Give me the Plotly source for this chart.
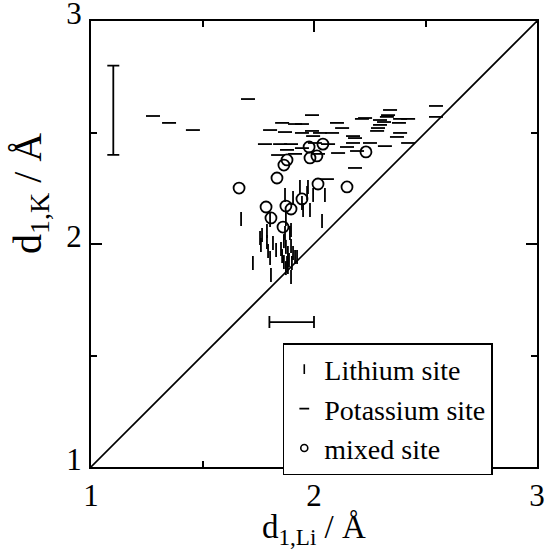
import plotly.graph_objects as go

# ---- data ----
li_x = [1.870, 1.906, 1.937, 1.973, 1.969, 1.996, 2.049, 1.951, 1.982, 1.673,
        1.874, 2.036, 1.803, 1.767, 1.758, 1.789, 1.870, 1.892, 1.897, 1.789,
        1.816, 1.762, 1.852, 1.865, 1.874, 1.883, 1.897, 1.794, 1.830, 1.803,
        1.857, 1.906, 1.915, 1.726, 1.865, 1.879, 1.888, 1.901, 1.874, 1.807,
        1.897, 1.946, 1.924, 1.883]
li_y = [2.220, 2.206, 2.256, 2.256, 2.229, 2.220, 2.220, 2.152, 2.152, 2.112,
        2.112, 2.103, 2.108, 2.040, 2.027, 2.058, 2.049, 2.049, 2.063, 2.009,
        2.004, 1.996, 1.978, 2.013, 1.987, 1.960, 1.991, 1.969, 1.973, 1.937,
        1.946, 1.960, 1.942, 1.915, 1.919, 1.915, 1.928, 1.915, 1.892, 1.861,
        1.852, 2.184, 1.942, 1.897]

k_x = [1.278, 1.350, 1.457, 1.704, 1.991, 2.547, 2.547, 2.341, 2.332, 2.296,
       2.386, 2.422, 2.296, 2.287, 2.283, 2.381, 2.386, 2.372, 2.215, 2.103,
       2.126, 2.081, 1.991, 2.027, 1.946, 1.946, 1.996, 1.857, 1.915, 1.803,
       1.870, 1.780, 1.848, 1.897, 1.946, 2.004, 2.063, 2.148, 1.879, 1.839,
       1.915, 2.018, 2.108, 2.175, 2.184, 2.175, 2.251, 2.318, 2.422, 2.193,
       2.184, 2.058, 2.229, 2.327, 2.314]
k_y = [2.574, 2.543, 2.511, 2.650, 2.578, 2.619, 2.570, 2.601, 2.578, 2.556,
       2.561, 2.561, 2.534, 2.520, 2.507, 2.543, 2.498, 2.480, 2.561, 2.543,
       2.520, 2.498, 2.507, 2.498, 2.538, 2.498, 2.484, 2.543, 2.538, 2.511,
       2.502, 2.448, 2.448, 2.448, 2.430, 2.453, 2.448, 2.435, 2.422, 2.399,
       2.404, 2.404, 2.408, 2.484, 2.475, 2.453, 2.453, 2.439, 2.453, 2.417,
       2.341, 2.291, 2.565, 2.570, 2.547]

mix_x = [1.664, 1.834, 1.879, 1.865, 1.978, 2.040, 1.982, 2.013, 2.018, 2.148,
         2.233, 1.785, 1.874, 1.897, 1.946, 1.807, 1.861]
mix_y = [2.251, 2.296, 2.377, 2.354, 2.435, 2.448, 2.386, 2.395, 2.269, 2.256,
         2.413, 2.166, 2.170, 2.157, 2.202, 2.117, 2.076]

# error-bar indicators
errv_x, errv_y, errv_e = [1.1], [2.6], [0.2]
errh_x, errh_y, errh_e = [1.9], [1.65], [0.1]

diag = [1, 3]
tick_vals = [1, 2, 3]
tick_text = ["1", "2", "3"]
minor_vals = [1.5, 2.5]

series_names = ["Lithium site", "Potassium site", "mixed site"]

FONT = "Liberation Serif"

fig = go.Figure()

fig.add_trace(go.Scatter(x=diag, y=diag, mode="lines",
                         line=dict(color="black", width=1.6),
                         showlegend=False, hoverinfo="skip"))

fig.add_trace(go.Scatter(x=li_x, y=li_y, mode="markers", name=series_names[0],
                         showlegend=False,
                         marker=dict(symbol="line-ns", size=10, color="black",
                                     line=dict(color="black", width=1.8))))
fig.add_trace(go.Scatter(x=k_x, y=k_y, mode="markers", name=series_names[1],
                         showlegend=False,
                         marker=dict(symbol="line-ew", size=10, color="black",
                                     line=dict(color="black", width=1.8))))
fig.add_trace(go.Scatter(x=mix_x, y=mix_y, mode="markers", name=series_names[2],
                         showlegend=False,
                         marker=dict(symbol="circle-open", size=11, color="black",
                                     line=dict(color="black", width=1.8))))

# legend-only entries with the small symbols seen in the reference legend
legend_symbols = [("line-ns", 7), ("line-ew", 7), ("circle-open", 7)]
for nm, (sym, sz) in zip(series_names, legend_symbols):
    fig.add_trace(go.Scatter(x=[None], y=[None], mode="markers", name=nm,
                             marker=dict(symbol=sym, size=sz, color="black",
                                         line=dict(color="black", width=1.6))))

fig.add_trace(go.Scatter(x=errv_x, y=errv_y, mode="markers",
                         marker=dict(size=0.1, color="rgba(0,0,0,0)"),
                         error_y=dict(type="data", array=errv_e, color="black",
                                      thickness=1.8, width=6),
                         showlegend=False, hoverinfo="skip"))
fig.add_trace(go.Scatter(x=errh_x, y=errh_y, mode="markers",
                         marker=dict(size=0.1, color="rgba(0,0,0,0)"),
                         error_x=dict(type="data", array=errh_e, color="black",
                                      thickness=1.8, width=6),
                         showlegend=False, hoverinfo="skip"))

axis_common = dict(
    range=[1, 3], tickmode="array", tickvals=tick_vals, ticktext=tick_text,
    showgrid=False, zeroline=False, showline=True, linecolor="black",
    linewidth=2, mirror="ticks", ticks="inside", ticklen=11, tickwidth=2,
    tickcolor="black", tickfont=dict(family=FONT, size=31, color="black"),
    automargin=False, ticklabeloverflow="allow",
    minor=dict(tickmode="array", tickvals=minor_vals, ticks="inside",
               ticklen=6, tickwidth=2, tickcolor="black", showgrid=False),
)

fig.update_xaxes(**axis_common, ticklabelstandoff=0)
fig.update_yaxes(**axis_common, ticklabelstandoff=1, ticklabelshift=-8)

fig.update_layout(
    width=550, height=550,
    margin=dict(l=91, r=13, t=21, b=83, autoexpand=False),
    paper_bgcolor="white", plot_bgcolor="white",
    font=dict(family=FONT, color="black"),
    legend=dict(x=0.43, y=0.278, xanchor="left", yanchor="top",
                bordercolor="black", borderwidth=1.5, bgcolor="white",
                font=dict(family=FONT, size=28, color="black"),
                itemwidth=30, tracegroupgap=0),
    annotations=[
        dict(text="d<sub>1,Li</sub> / Å", xref="paper", yref="paper",
             x=0.5, y=-0.14, xanchor="center", yanchor="middle",
             showarrow=False, font=dict(family=FONT, size=33, color="black")),
        dict(text="d<sub>1,K</sub> / Å", xref="paper", yref="paper",
             x=-0.137, y=0.614, xanchor="center", yanchor="middle", textangle=-90,
             showarrow=False, font=dict(family=FONT, size=40, color="black")),
    ],
)

fig.write_html("out.html", config={"displayModeBar": False},
               post_script="document.body.style.margin='0';document.body.style.overflow='hidden';")
